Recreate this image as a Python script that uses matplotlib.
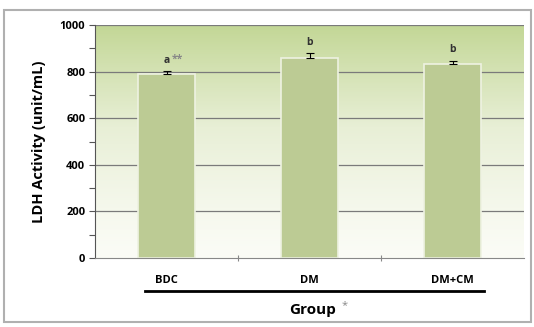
import numpy as np
import matplotlib.pyplot as plt
from matplotlib.patches import Rectangle
from matplotlib.colors import LinearSegmentedColormap

groups = ['BDC', 'DM', 'DM+CM']
ldh = [790, 858, 833]
ldh_err = [12, 20, 13]
letters = ['a', 'b', 'b']
stars = ['**', '', '']

plt.rcParams['font.family'] = ['Open Sans', 'DejaVu Sans']

fig = plt.figure(figsize=(5.34, 3.27), dpi=100)
# outer frame like the spreadsheet chart area
fig.patches.append(Rectangle((0.008, 0.015), 0.986, 0.955, transform=fig.transFigure,
                             fc='white', ec='#b0b0b0', lw=1.5, zorder=-5))

ax = fig.add_axes([95/534, 1 - 258/327, 429/534, 233/327])
ax.set_zorder(2)
x = np.arange(len(groups))
ax.set_xlim(-0.5, len(groups) - 0.5)
ax.set_ylim(0, 1000)

# background gradient, green on top fading to white
cmap = LinearSegmentedColormap.from_list('bg', ['#fbfcf6', '#e8efd6', '#c3d796'])
grad = np.linspace(0, 1, 256).reshape(-1, 1) ** 1.2
ax.imshow(grad, extent=(-0.5, len(groups) - 0.5, 0, 1000), origin='lower',
          aspect='auto', cmap=cmap, zorder=0)

for v in range(200, 1001, 200):
    ax.axhline(v, color='#7a7a7a', lw=0.9, zorder=1)

# only the upper half of the error bar shows
ax.bar(x, ldh, width=0.4, color='#bccb94', edgecolor='#eef2e2', lw=1.2, zorder=2,
       yerr=[np.zeros(len(ldh)), ldh_err],
       error_kw=dict(ecolor='black', elinewidth=0.8, capsize=3, capthick=0.8))

for xi, v, e, t, s in zip(x, ldh, ldh_err, letters, stars):
    ax.annotate(t, (xi, v + e), xytext=(0, 4), textcoords='offset points',
                ha='center', va='bottom', fontsize=7.5, fontweight='bold',
                color='#333333', zorder=3)
    if s:
        ax.annotate(s, (xi, v + e), xytext=(4, 4.5), textcoords='offset points',
                    ha='left', va='bottom', fontsize=7.5, fontweight='bold',
                    color='#888888', zorder=3)

for s in ['top', 'right']:
    ax.spines[s].set_visible(False)
ax.spines['left'].set_color('#555555')
ax.spines['bottom'].set_color('#888888')

ax.set_yticks(range(0, 1001, 200))
ax.set_yticks(range(100, 1000, 200), minor=True)
ax.tick_params(axis='y', which='both', direction='out', length=4, width=0.8,
               color='#555555', labelsize=8, pad=3)
for lab in ax.get_yticklabels():
    lab.set_fontweight('bold')

ax.set_xticks([0.5, 1.5])
ax.set_xticks(x, minor=True)
ax.set_xticklabels([])
ax.set_xticklabels(groups, minor=True, fontsize=8, fontweight='bold')
ax.tick_params(axis='x', which='major', direction='inout', length=5, color='#888888')
ax.tick_params(axis='x', which='minor', length=0, pad=12)

ax.set_ylabel('LDH Activity (unit/mL)', fontsize=10.5, fontweight='bold', labelpad=10)

# underline for the group labels and the axis title
fig.add_artist(plt.Line2D([145/534, 484/534], [1 - 291/327] * 2,
                          transform=fig.transFigure, color='black', lw=2))
fig.text(313/534, 1 - 310/327, 'Group', ha='center', va='center',
         fontsize=11, fontweight='bold')
fig.text(342/534, 1 - 306/327, '*', ha='left', va='center', fontsize=8, color='#888888')

fig.savefig('out.png', dpi=100)
